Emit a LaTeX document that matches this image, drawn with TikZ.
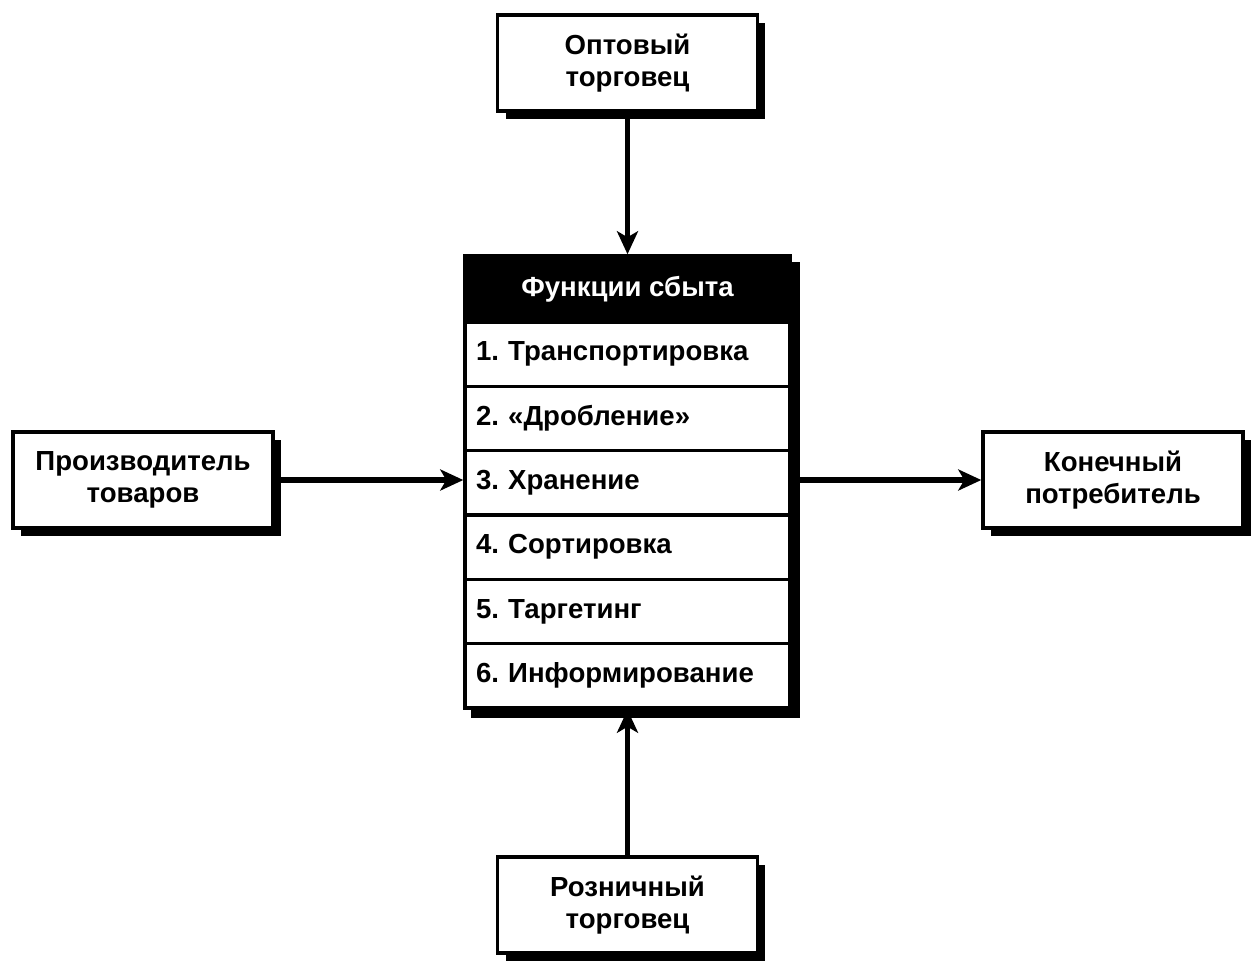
\documentclass[tikz,border=0pt]{standalone}
\usepackage{fontspec}
\setmainfont{Liberation Sans}
\usetikzlibrary{positioning, arrows.meta, shadows, backgrounds}

\begin{document}
\begin{tikzpicture}[x=0.02cm,y=-0.02cm,
    txt/.style={font=\fontsize{15.7}{18.5}\selectfont\bfseries\frenchspacing},
    box/.style={txt,draw,line width=2pt,fill=white,align=center,
      minimum width=5.2cm,minimum height=1.92cm,
      drop shadow={fill=black,opacity=1,shadow xshift=0.16cm,shadow yshift=-0.16cm}},
    item/.style={txt,draw,line width=2pt,fill=white,align=left,
      minimum width=6.5cm,minimum height=1.287cm,inner xsep=0.22cm,text width=6.06cm},
    arr/.style={line width=3.4pt,-{Stealth[length=0.46cm,width=0.42cm,inset=0.12cm]}}]
  \useasboundingbox (0,0) rectangle (1256,960);
  \node[box] (opt) at (627.5,63) {Оптовый\\торговец};%опт
  \node[box] (prod) at (143,480) {Производитель\\товаров};
  \node[box] (kon) at (1113,480) {Конечный\\потребитель};
  \node[box] (roz) at (627.5,905) {Розничный\\торговец};%розница
  % функции
  \node[txt,fill=black,draw,line width=2pt,text=white,minimum width=6.5cm,minimum height=1.32cm] (head) at (627.5,289) {Функции сбыта};
  \foreach \i/\t in {1/{1. Транспортировка},2/{2. «Дробление»},3/{3. Хранение},
      4/{4. Сортировка},5/{5. Таргетинг},6/{6. Информирование}}
    \node[item] (r\i) at (627.5,{322+64.33*(\i-0.5)}) {\t};
  \begin{scope}[on background layer]
    \fill[black] ([shift={(8,8)}]head.north west) rectangle ([shift={(8,8)}]r6.south east);
  \end{scope}
  % стрелки
  \draw[arr] (opt.south) -- (head.north);
  \draw[arr] (prod.east) -- (prod.east -| r3.west);
  \draw[arr] (kon.west -| r3.east) -- (kon.west);
  \draw[arr] (roz.north) -- (r6.south);
\end{tikzpicture}
\end{document}
